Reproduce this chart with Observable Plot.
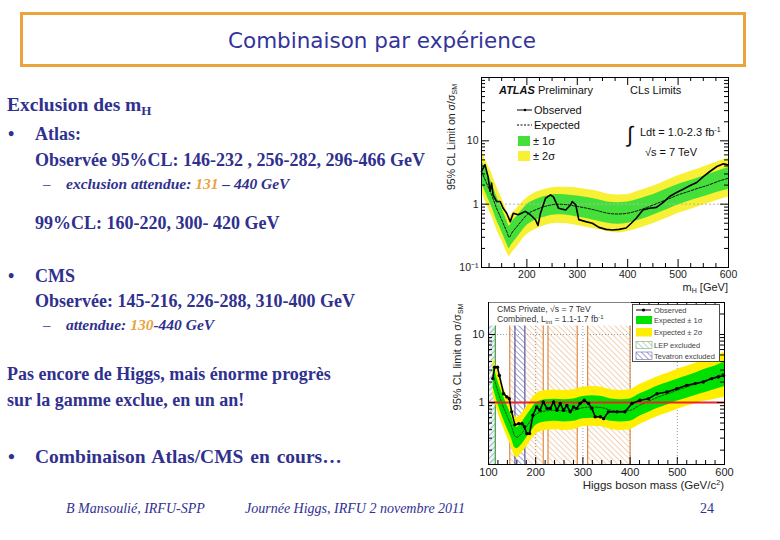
<!DOCTYPE html>
<html><head><meta charset="utf-8">
<script src="https://cdn.jsdelivr.net/npm/d3@7"></script>
<script src="https://cdn.jsdelivr.net/npm/@observablehq/plot@0.6"></script>
<style>
body{margin:0;background:#fff}
#slide{position:relative;width:780px;height:540px;overflow:hidden;background:#fff}
.abs{position:absolute}
#overlay text{font-family:'Liberation Sans',Arial,sans-serif}
#overlay .body{font-family:'Liberation Serif','Times New Roman',serif;font-weight:bold;fill:#30308f;font-size:18px}
#overlay .sub{font-family:'Liberation Serif','Times New Roman',serif;font-weight:bold;font-style:italic;fill:#30308f;font-size:15.5px}
#overlay .foot{font-family:'Liberation Serif','Times New Roman',serif;font-style:italic;fill:#30308f;font-size:14px}
</style></head><body>
<div id="slide">
  <div id="atlas" class="abs" style="left:440px;top:72px"></div>
  <div id="cms" class="abs" style="left:445px;top:298px"></div>
  <svg id="overlay" class="abs" style="left:0;top:0;pointer-events:none" width="780" height="540">
    <defs>
      <pattern id="hOrange" patternUnits="userSpaceOnUse" width="4" height="4" patternTransform="rotate(-45)">
        <rect width="4" height="4" fill="#fff"/>
        <line x1="0" y1="0" x2="0" y2="4" stroke="#ebb88a" stroke-width="1.3"/>
      </pattern>
      <pattern id="hTev" patternUnits="userSpaceOnUse" width="4" height="4" patternTransform="rotate(-45)">
        <rect width="4" height="4" fill="#fff"/>
        <line x1="0" y1="0" x2="0" y2="4" stroke="#6464b0" stroke-width="1.2"/>
      </pattern>
      <pattern id="hLep" patternUnits="userSpaceOnUse" width="4" height="4" patternTransform="rotate(45)">
        <rect width="4" height="4" fill="#eef3f3"/>
        <line x1="0" y1="0" x2="0" y2="4" stroke="#6f8fa8" stroke-width="1.2"/>
      </pattern>
      <pattern id="hLepLeg" patternUnits="userSpaceOnUse" width="4" height="4" patternTransform="rotate(-45)">
        <rect width="4" height="4" fill="#fff"/>
        <line x1="0" y1="0" x2="0" y2="4" stroke="#8cbf8c" stroke-width="1.2"/>
      </pattern>
    </defs>

    <!-- title -->
    <rect x="21.5" y="13.5" width="723" height="52" fill="none" stroke="#e9a43c" stroke-width="3"/>
    <text x="382" y="48" text-anchor="middle" style="font-family:'DejaVu Sans',sans-serif;font-size:21.5px;fill:#33339a">Combinaison par expérience</text>

    <!-- body text -->
    <text class="body" x="7" y="111" style="font-size:19.5px">Exclusion des m<tspan dy="4" font-size="13">H</tspan></text>
    <text class="body" x="8" y="140">•</text>
    <text class="body" x="35" y="140">Atlas:</text>
    <text class="body" x="35" y="166">Observée 95%CL: 146-232 , 256-282, 296-466 GeV</text>
    <text class="body" x="43" y="189" style="font-weight:normal;font-size:15px">–</text>
    <text class="sub" x="66" y="189">exclusion attendue: <tspan fill="#e8a33c">131</tspan> – 440 GeV</text>
    <text class="body" x="35" y="229">99%CL: 160-220, 300- 420 GeV</text>
    <text class="body" x="8" y="282">•</text>
    <text class="body" x="35" y="282">CMS</text>
    <text class="body" x="35" y="307">Observée: 145-216, 226-288, 310-400 GeV</text>
    <text class="body" x="43" y="330" style="font-weight:normal;font-size:15px">–</text>
    <text class="sub" x="66" y="330">attendue:  <tspan fill="#e8a33c">130</tspan>-440 GeV</text>
    <text class="body" x="7" y="380">Pas encore de Higgs, mais énorme progrès</text>
    <text class="body" x="7" y="406">sur la gamme exclue, en un an!</text>
    <text class="body" x="8" y="463" style="font-size:19.5px">•</text>
    <text class="body" x="35" y="463" style="font-size:19.5px;word-spacing:2px">Combinaison Atlas/CMS en cours…</text>
    <text class="foot" x="66" y="513">B Mansoulié, IRFU-SPP</text>
    <text class="foot" x="245" y="513">Journée Higgs, IRFU  2 novembre 2011</text>
    <text class="foot" x="700" y="513" style="font-style:normal">24</text>

    <!-- ATLAS annotations -->
    <text transform="translate(455,137) rotate(-90)" text-anchor="middle" font-size="10.5" fill="#222">95% CL Limit on σ/σ<tspan dy="2" font-size="7">SM</tspan></text>
    <text x="499" y="94" font-size="11" fill="#111"><tspan font-weight="bold" font-style="italic">ATLAS</tspan> Preliminary</text>
    <text x="630" y="94" font-size="11" fill="#111">CLs Limits</text>
    <line x1="517" y1="110" x2="532" y2="110" stroke="#000" stroke-width="1"/>
    <circle cx="525" cy="110" r="1.3" fill="#000"/>
    <text x="534" y="114" font-size="11" fill="#111">Observed</text>
    <line x1="517" y1="125" x2="532" y2="125" stroke="#000" stroke-width="1" stroke-dasharray="2,1.5"/>
    <text x="534" y="129" font-size="11" fill="#111">Expected</text>
    <rect x="518" y="136" width="12" height="10" fill="#44df3a"/>
    <text x="533" y="145" font-size="11" fill="#111">± 1σ</text>
    <rect x="518" y="151" width="12" height="10" fill="#f8f035"/>
    <text x="533" y="160" font-size="11" fill="#111">± 2σ</text>
    <text x="627" y="142" font-size="22" fill="#111">∫</text>
    <text x="640" y="136" font-size="11" fill="#111">Ldt = 1.0-2.3 fb<tspan dy="-4" font-size="7">-1</tspan></text>
    <text x="645" y="156" font-size="11" fill="#111">√s = 7 TeV</text>
    <text x="728" y="291" text-anchor="end" font-size="11" fill="#222">m<tspan dy="2" font-size="7">H</tspan><tspan dy="-2"> [GeV]</tspan></text>

    <!-- CMS annotations -->
    <text transform="translate(461,357) rotate(-90)" text-anchor="middle" font-size="11" fill="#222">95% CL limit on σ/σ<tspan dy="2" font-size="7">SM</tspan></text>
    <text x="724" y="489" text-anchor="end" font-size="11.5" fill="#222">Higgs boson mass (GeV/c<tspan dy="-4" font-size="7">2</tspan><tspan dy="4">)</tspan></text>
    <rect x="489" y="302.5" width="142" height="23" fill="#fff"/>
    <text x="497" y="311.5" font-size="8.6" fill="#333">CMS Private, √s = 7 TeV</text>
    <text x="497" y="321.5" font-size="8.6" fill="#333">Combined, L<tspan dy="2" font-size="6">int</tspan><tspan dy="-2"> = 1.1-1.7 fb</tspan><tspan dy="-3" font-size="6">-1</tspan></text>
    <rect x="632.5" y="304.5" width="87" height="57" fill="#fff" stroke="#222" stroke-width="0.8"/>
    <line x1="636" y1="310" x2="651" y2="310" stroke="#000" stroke-width="1"/>
    <circle cx="643.5" cy="310" r="1.6" fill="#000"/>
    <text x="654" y="313" font-size="7.5" fill="#444">Observed</text>
    <rect x="636" y="316" width="16" height="8" fill="#00e000"/>
    <text x="654" y="323" font-size="7.5" fill="#444">Expected ± 1σ</text>
    <rect x="636" y="328" width="16" height="8.5" fill="#ffee00"/>
    <text x="654" y="335" font-size="7.5" fill="#444">Expected ± 2σ</text>
    <rect x="636" y="341.5" width="16" height="7" fill="url(#hLepLeg)" stroke="#7aa87a" stroke-width="0.6"/>
    <text x="654" y="348" font-size="7.5" fill="#444">LEP excluded</text>
    <rect x="636" y="352" width="16" height="7.5" fill="url(#hTev)" stroke="#6464b0" stroke-width="0.6"/>
    <text x="654" y="359" font-size="7.5" fill="#444">Tevatron excluded</text>
  </svg>
</div>
<script>
// ---------------- ATLAS data ----------------
const atlasMass   = [110,120,130,140,150,160,165,170,180,190,200,220,240,260,280,300,320,340,360,380,400,420,440,460,480,500,520,540,560,580,600];
const atlasExp    = [3.3,2.15,1.4,0.86,0.57,0.37,0.30,0.35,0.44,0.55,0.68,0.83,0.94,1.0,0.98,0.92,0.86,0.79,0.72,0.70,0.72,0.79,0.9,1.04,1.2,1.4,1.58,1.79,2.0,2.3,2.57];
const atlasHi2    = [6.8,4.6,3.1,1.9,1.25,0.80,0.62,0.70,0.85,1.05,1.25,1.55,1.75,1.85,1.85,1.8,1.7,1.6,1.45,1.40,1.42,1.6,1.8,2.05,2.4,2.8,3.2,3.6,4.1,4.7,5.3];
const atlasHi1    = [5.0,3.4,2.2,1.35,0.88,0.56,0.45,0.52,0.64,0.8,0.98,1.2,1.35,1.42,1.40,1.35,1.27,1.18,1.08,1.05,1.08,1.18,1.33,1.52,1.77,2.05,2.3,2.6,2.95,3.35,3.8];
const atlasLo1    = [2.2,1.4,0.92,0.56,0.37,0.24,0.20,0.23,0.29,0.37,0.46,0.57,0.64,0.68,0.67,0.63,0.59,0.54,0.50,0.48,0.50,0.55,0.62,0.72,0.83,0.97,1.1,1.24,1.38,1.55,1.72];
const atlasLo2    = [1.6,1.0,0.66,0.40,0.27,0.175,0.15,0.17,0.21,0.27,0.33,0.41,0.47,0.5,0.49,0.46,0.43,0.40,0.37,0.35,0.37,0.41,0.46,0.53,0.61,0.71,0.80,0.91,1.02,1.16,1.3];
const atlasObsMass = [110,117,123,127,130,133,140,147,153,160,167,173,183,197,207,217,222,227,237,247,253,263,277,287,290,297,303,317,330,343,357,370,383,397,407,417,430,443,457,470,483,497,510,523,537,550,563,577,590,598];
const atlasObsVal  = [3.3,4.2,2.7,1.6,2.15,1.4,1.1,1.1,0.86,0.72,0.53,0.72,0.68,0.77,0.68,0.57,0.46,0.72,1.24,1.4,1.29,0.86,0.81,0.98,1.1,0.98,0.57,0.53,0.5,0.43,0.4,0.39,0.4,0.42,0.5,0.6,0.81,0.86,0.89,1.06,1.32,1.53,1.72,1.95,2.2,2.73,3.28,3.93,4.33,4.17];
const atlasXTicks = [200,300,400,500,600];
const atlasYTicks = [0.1,1,10];
const atlasYTickLabels = ["10⁻¹","1","10"];
const atlasXMajor = [200,300,400,500];
const atlasXMinor = [125,150,175,225,250,275,325,350,375,425,450,475,525,550,575];
const atlasYMajor = [1,10];
const atlasYMinor = [0.2,0.3,0.4,0.5,0.6,0.7,0.8,0.9,2,3,4,5,6,7,8,9,20,30,40,50,60,70,80,90];

// ---------------- CMS data ----------------
const cmsMass = [110,115,120,130,140,150,155,160,170,180,190,200,220,240,260,280,300,320,340,360,380,400,420,440,460,480,500,520,540,560,580,600];
const cmsExp  = [2.5,1.9,1.43,0.91,0.62,0.42,0.33,0.31,0.35,0.44,0.55,0.67,0.75,0.77,0.75,0.77,0.84,0.86,0.84,0.77,0.75,0.77,0.91,1.05,1.21,1.35,1.52,1.69,1.9,2.12,2.37,2.75];
const cmsHi1  = [3.4,2.7,2.05,1.32,0.9,0.6,0.47,0.43,0.5,0.63,0.79,0.97,1.1,1.12,1.1,1.13,1.23,1.26,1.23,1.13,1.1,1.13,1.33,1.53,1.76,1.97,2.2,2.45,2.75,3.1,3.45,3.9];
const cmsLo1  = [1.65,1.25,0.95,0.61,0.41,0.28,0.22,0.21,0.24,0.3,0.37,0.46,0.52,0.53,0.52,0.53,0.58,0.59,0.58,0.53,0.52,0.53,0.63,0.72,0.83,0.93,1.05,1.16,1.28,1.4,1.55,1.7];
const cmsHi2  = [4.5,3.6,2.75,1.8,1.22,0.82,0.65,0.6,0.68,0.86,1.08,1.32,1.5,1.53,1.5,1.54,1.68,1.72,1.68,1.54,1.5,1.54,1.82,2.1,2.42,2.7,3.05,3.4,3.8,4.25,4.75,5.5];
const cmsLo2  = [1.25,0.95,0.72,0.46,0.31,0.21,0.165,0.155,0.18,0.22,0.28,0.34,0.39,0.4,0.39,0.4,0.44,0.45,0.44,0.4,0.39,0.4,0.47,0.55,0.63,0.7,0.79,0.88,0.97,1.05,1.12,1.2];
const cmsObsMass = [109,113,119,123,132,139,144,149,156,164,171,176,181,187,194,202,209,216,224,231,238,245,252,259,266,273,280,287,294,303,312,319,326,337,344,354,372,389,404,421,439,457,478,499,520,538,555,573,587,598];
const cmsObsVal  = [2.25,3.3,3.3,2.5,1.35,1.21,1.14,0.73,0.47,0.49,0.49,0.44,0.35,0.35,0.65,0.86,0.77,1.02,0.82,0.82,1.02,0.77,0.97,0.77,0.91,0.73,0.86,0.82,0.97,1.08,0.97,0.82,0.62,0.62,0.58,0.73,0.73,0.73,0.97,1.08,1.14,1.35,1.43,1.6,1.79,1.9,2.0,2.25,2.37,2.5];
const cmsExclStart = [145,226,310];
const cmsExclEnd   = [216,288,400];
const tevStart = [156], tevEnd = [177];
const lepStart = [100], lepEnd = [114.4];
const cmsXTicks = [100,200,300,400,500,600];
const cmsYTicks = [1,10];
const cmsXMajor = [200,300,400,500];
const cmsXMinor = [120,140,160,180,220,240,260,280,320,340,360,380,420,440,460,480,520,540,560,580];
const cmsYMinor = [0.2,0.3,0.4,0.5,0.6,0.7,0.8,0.9,2,3,4,5,6,7,8,9,20];

// ---------------- tables ----------------
const atlasBand = atlasMass.map((m,i)=>({m, exp:atlasExp[i], hi2:atlasHi2[i], hi1:atlasHi1[i], lo1:atlasLo1[i], lo2:atlasLo2[i]}));
const atlasObs = atlasObsMass.map((m,i)=>({m, v:atlasObsVal[i]}));
const cmsBand = cmsMass.map((m,i)=>({m, exp:cmsExp[i], hi2:cmsHi2[i], hi1:cmsHi1[i], lo1:cmsLo1[i], lo2:cmsLo2[i]}));
const cmsObs = cmsObsMass.map((m,i)=>({m, v:cmsObsVal[i]}));
const cmsExcl = cmsExclStart.map((s,i)=>({x1:s, x2:cmsExclEnd[i]}));
const tev = tevStart.map((s,i)=>({x1:s, x2:tevEnd[i]}));
const lep = lepStart.map((s,i)=>({x1:s, x2:lepEnd[i]}));

const sansFont = "'Liberation Sans', Arial, sans-serif";

// ---------------- ATLAS plot ----------------
const W1=305, H1=225, ml1=41, mr1=17, mt1=5, mb1=30;
const iw1=W1-ml1-mr1, ih1=H1-mt1-mb1;
const atlasPlot = Plot.plot({
  width:W1, height:H1, marginLeft:ml1, marginRight:mr1, marginTop:mt1, marginBottom:mb1,
  style:{fontFamily:sansFont, fontSize:"10.5px", color:"#222", background:"transparent"},
  x:{domain:[110,600], label:null, ticks:atlasXTicks, tickSize:0, tickPadding:3},
  y:{type:"log", domain:[0.1,100], label:null, ticks:atlasYTicks, tickSize:0, tickPadding:3,
     tickFormat:d=>atlasYTickLabels[atlasYTicks.indexOf(d)]},
  marks:[
    Plot.areaY(atlasBand, {x:"m", y1:"lo2", y2:"hi2", fill:"#f8f035", curve:"monotone-x"}),
    Plot.areaY(atlasBand, {x:"m", y1:"lo1", y2:"hi1", fill:"#44df3a", curve:"monotone-x"}),
    Plot.ruleY([1], {stroke:"#b5b5b5", strokeDasharray:"2,2"}),
    Plot.line(atlasBand, {x:"m", y:"exp", stroke:"#111", strokeWidth:1, strokeDasharray:"2.5,1.5", curve:"monotone-x"}),
    Plot.line(atlasObs, {x:"m", y:"v", stroke:"#000", strokeWidth:1.6}),
    Plot.tickY(atlasYMajor, {y:d=>d, insetRight:iw1-8, stroke:"#000"}),
    Plot.tickY(atlasYMinor, {y:d=>d, insetRight:iw1-4, stroke:"#000"}),
    Plot.tickY(atlasYMajor, {y:d=>d, insetLeft:iw1-8, stroke:"#000"}),
    Plot.tickY(atlasYMinor, {y:d=>d, insetLeft:iw1-4, stroke:"#000"}),
    Plot.tickX(atlasXMajor, {x:d=>d, insetTop:ih1-8, stroke:"#000"}),
    Plot.tickX(atlasXMinor, {x:d=>d, insetTop:ih1-4, stroke:"#000"}),
    Plot.tickX(atlasXMajor, {x:d=>d, insetBottom:ih1-8, stroke:"#000"}),
    Plot.tickX(atlasXMinor, {x:d=>d, insetBottom:ih1-4, stroke:"#000"}),
    Plot.frame({stroke:"#000"})
  ]
});
document.getElementById("atlas").append(atlasPlot);

// ---------------- CMS plot ----------------
const W2=300, H2=195, ml2=43, mr2=21, mt2=4, mb2=29;
const iw2=W2-ml2-mr2, ih2=H2-mt2-mb2;
const cmsPlot = Plot.plot({
  width:W2, height:H2, marginLeft:ml2, marginRight:mr2, marginTop:mt2, marginBottom:mb2,
  style:{fontFamily:sansFont, fontSize:"11px", color:"#222", background:"transparent"},
  x:{domain:[100,600], label:null, ticks:cmsXTicks, tickSize:0, tickPadding:4},
  y:{type:"log", domain:[0.123,29.5], label:null, ticks:cmsYTicks, tickSize:0, tickPadding:4},
  marks:[
    Plot.rect(cmsExcl, {x1:"x1", x2:"x2", fill:"url(#hOrange)"}),
    Plot.rect(lep, {x1:"x1", x2:"x2", fill:"url(#hLep)"}),
    Plot.rect(tev, {x1:"x1", x2:"x2", fill:"url(#hTev)"}),
    Plot.ruleX(cmsExclStart.concat(cmsExclEnd), {stroke:"#e08a45", strokeWidth:1.2}),
    Plot.ruleX(tevStart.concat(tevEnd), {stroke:"#5555a0", strokeWidth:1.2}),
    Plot.ruleX(lepEnd, {stroke:"#3aa03a", strokeWidth:1.2}),
    Plot.ruleY(cmsYTicks, {stroke:"#999", strokeDasharray:"1,2"}),
    Plot.ruleX(cmsXMajor, {stroke:"#999", strokeDasharray:"1,2"}),
    Plot.areaY(cmsBand, {x:"m", y1:"lo2", y2:"hi2", fill:"#ffee00", curve:"monotone-x"}),
    Plot.areaY(cmsBand, {x:"m", y1:"lo1", y2:"hi1", fill:"#00e000", curve:"monotone-x"}),
    Plot.line(cmsBand, {x:"m", y:"exp", stroke:"#222", strokeWidth:0.8, strokeDasharray:"2,1.5", curve:"monotone-x"}),
    Plot.ruleY([1], {stroke:"#e8262a", strokeWidth:2}),
    Plot.line(cmsObs, {x:"m", y:"v", stroke:"#000", strokeWidth:1.6}),
    Plot.dot(cmsObs, {x:"m", y:"v", r:1.7, fill:"#000"}),
    Plot.tickY(cmsYTicks, {y:d=>d, insetRight:iw2-7, stroke:"#000"}),
    Plot.tickY(cmsYMinor, {y:d=>d, insetRight:iw2-4, stroke:"#000"}),
    Plot.tickY(cmsYTicks, {y:d=>d, insetLeft:iw2-7, stroke:"#000"}),
    Plot.tickY(cmsYMinor, {y:d=>d, insetLeft:iw2-4, stroke:"#000"}),
    Plot.tickX(cmsXMajor, {x:d=>d, insetTop:ih2-7, stroke:"#000"}),
    Plot.tickX(cmsXMinor, {x:d=>d, insetTop:ih2-4, stroke:"#000"}),
    Plot.tickX(cmsXMajor, {x:d=>d, insetBottom:ih2-7, stroke:"#000"}),
    Plot.tickX(cmsXMinor, {x:d=>d, insetBottom:ih2-4, stroke:"#000"}),
    Plot.frame({stroke:"#000"})
  ]
});
document.getElementById("cms").append(cmsPlot);
</script>
</body></html>
